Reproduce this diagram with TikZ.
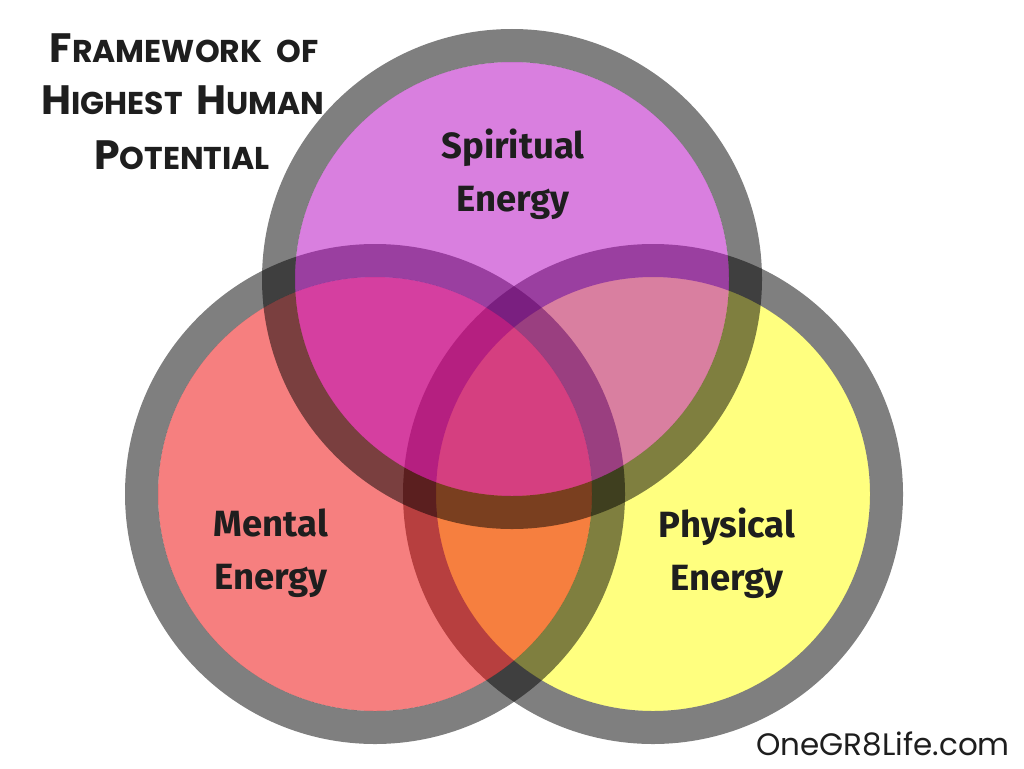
\documentclass[tikz,border=0pt]{standalone}
\usepackage{fontspec}
\setmainfont{Fira Sans}
\newfontfamily\labelfont{Fira Sans}
\newfontfamily\titlefont{Poppins}
\newfontfamily\footfont{Poppins}
\definecolor{yellowc}{RGB}{255,255,1}
\definecolor{redc}{RGB}{239,1,1}
\definecolor{magc}{RGB}{181,0,193}
\definecolor{inkc}{RGB}{30,30,30}
\tikzset{
  ring/.style={draw=black, draw opacity=0.5, line width=33pt},
  lbl/.style={font=\labelfont\bfseries\fontsize{36.5}{53}\selectfont, text=inkc, align=center},
  ttl/.style={font=\titlefont\bfseries, text=inkc, align=center, inner sep=0pt},
}
\newcommand{\capA}[1]{{\fontsize{41}{44}\selectfont #1}}
\newcommand{\capB}[1]{{\fontsize{31.5}{44}\selectfont #1}}
\newcommand{\wsp}{\hspace{14pt}}
\begin{document}
\begin{tikzpicture}[x=1pt,y=-1pt]
\fill[white] (0,0) rectangle (1024,768);
\useasboundingbox (0,0) rectangle (1024,768);
\coordinate (R) at (653,494);
\coordinate (L) at (375,494);
\coordinate (T) at (512,279);
% right circle
\fill[yellowc, fill opacity=0.5] (R) circle (217pt);
\draw[ring] (R) circle (233.5pt);
% left circle
\fill[redc, fill opacity=0.5] (L) circle (217pt);
\draw[ring] (L) circle (233.5pt);
% top circle
\fill[magc, fill opacity=0.5] (T) circle (217pt);
\draw[ring] (T) circle (233.5pt);
% labels
\node[lbl] (spirit) at (513,174) {Spiritual\\Energy};
\node[lbl] (mental) at (271,553) {Mental\\Energy};
\node[lbl] (phys) at (727,553) {Physical\\Energy};
% title
\node[ttl] (t1) at (184,48) {\capA{F}\capB{RAMEWORK}\wsp\capB{OF}};
\node[ttl] (t2) at (183,100) {\capA{H}\capB{IGHEST}\wsp\capA{H}\capB{UMAN}};
\node[ttl] (t3) at (182,155) {\capA{P}\capB{OTENTIAL}};
% footer
\node[font=\footfont\fontsize{31}{34}\selectfont, text=inkc, anchor=east, inner sep=0pt] (foot) at (1010,744) {OneGR8Life.com};
\end{tikzpicture}
\end{document}
